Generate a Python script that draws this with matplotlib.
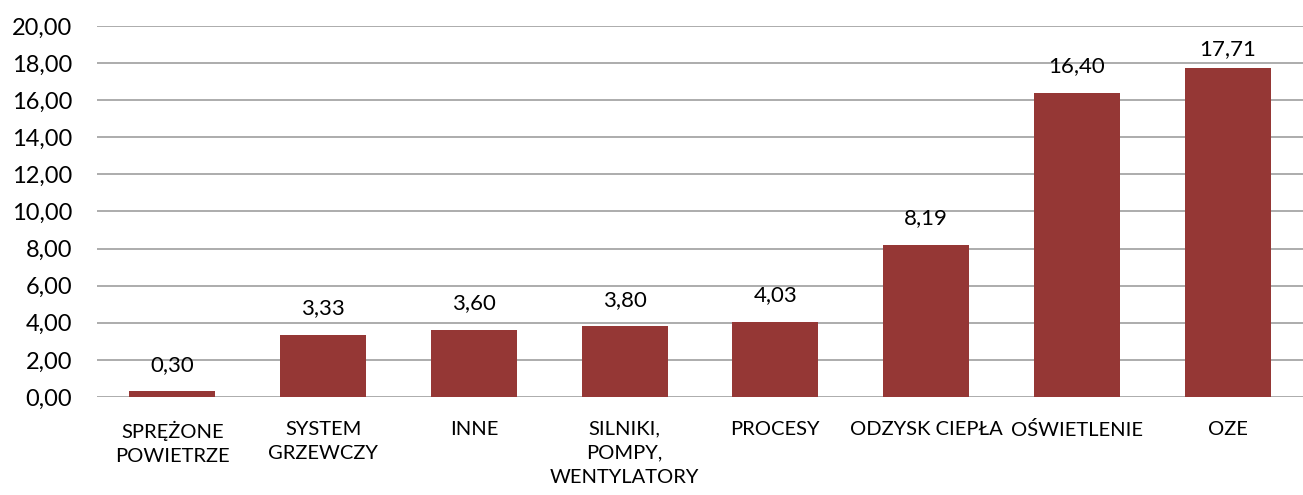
import matplotlib
matplotlib.use("Agg")
import matplotlib.pyplot as plt
from matplotlib.ticker import FuncFormatter

categories = ["SPRĘŻONE\nPOWIETRZE", "SYSTEM\nGRZEWCZY", "INNE", "SILNIKI,\nPOMPY,\nWENTYLATORY",
              "PROCESY", "ODZYSK CIEPŁA", "OŚWIETLENIE", "OZE"]
values = [0.30, 3.33, 3.60, 3.80, 4.03, 8.19, 16.40, 17.71]
y_ticks = [0, 2, 4, 6, 8, 10, 12, 14, 16, 18, 20]

plt.rcParams["font.family"] = ["Lato", "DejaVu Sans"]

def pl(v, _=None):
    return f"{v:.2f}".replace(".", ",")

fig = plt.figure(figsize=(13.03, 4.95), dpi=100)
ax = fig.add_axes([0.0744, 0.198, 0.9256, 0.7495])

x = range(len(categories))
ax.bar(x, values, width=0.57, color="#953735", zorder=3)
for xi, v in zip(x, values):
    # keep the top label inside the plot area
    off = 12 if v < 17 else 7
    ax.annotate(pl(v), (xi, v), xytext=(0, off), textcoords="offset points",
                ha="center", va="bottom", fontsize=16, color="#000000")

ax.set_xlim(-0.5, len(categories) - 0.5)
ax.set_ylim(0, 20)
ax.set_yticks(y_ticks)
ax.yaxis.set_major_formatter(FuncFormatter(pl))
ax.set_xticks(list(x))
ax.set_xticklabels(categories, fontsize=14.5, linespacing=1.5)
ax.tick_params(axis="x", length=0, pad=17)
ax.tick_params(axis="y", length=0, pad=18, labelsize=17)
ax.grid(axis="y", color="#a6a6a6", linewidth=1.3, zorder=0)
for s in ax.spines.values():
    s.set_visible(False)

fig.savefig("out.png", dpi=100)
